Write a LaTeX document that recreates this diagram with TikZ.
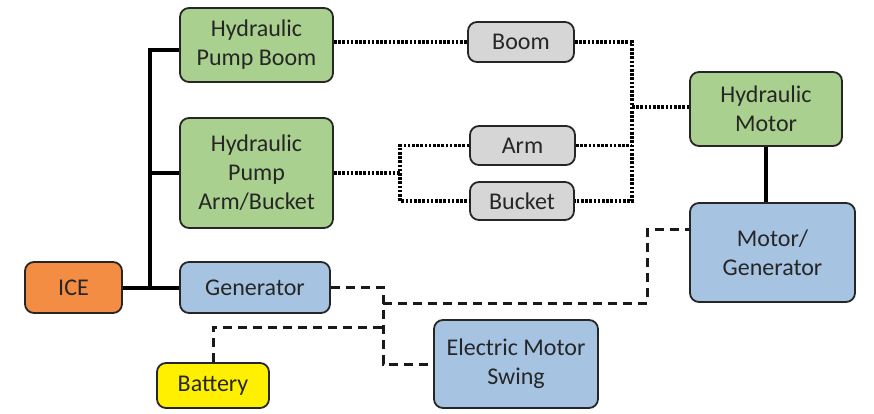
\documentclass[tikz,border=0pt]{standalone}
\usepackage{fontspec}
\setmainfont{Carlito}
\definecolor{gfill}{RGB}{169,208,142}
\definecolor{bfill}{RGB}{166,196,226}
\definecolor{grayfill}{RGB}{214,214,214}
\definecolor{ofill}{RGB}{244,141,68}
\definecolor{yfill}{RGB}{255,240,0}
\begin{document}
\begin{tikzpicture}[x=1pt,y=-1pt,
  box/.style={draw=black!85, line width=1.8pt, rounded corners=9pt, align=center, inner sep=0pt,
    font=\fontsize{24}{29}\selectfont, text=black!85},
  solidc/.style={line width=4pt, black},
  dotc/.style={line width=3.5pt, dash pattern=on 2.6pt off 1.6pt, black},
  dashc/.style={line width=3pt, dash pattern=on 9pt off 6pt, black!90}]
\useasboundingbox (0,0) rectangle (874,413);
\fill[white] (0,0) rectangle (874,413);
% nodes
\node[box, fill=gfill, minimum width=153, minimum height=74] (hpb) at (256.5,45) {Hydraulic\\Pump Boom};
\node[box, fill=gfill, minimum width=153, minimum height=110] (hpa) at (256.5,173) {Hydraulic\\Pump\\Arm/Bucket};
\node[box, fill=ofill, minimum width=97, minimum height=51] (ice) at (73.5,287.5) {ICE};
\node[box, fill=bfill, minimum width=150, minimum height=51] (gen) at (255,287.5) {Generator};
\node[box, fill=yfill, minimum width=112, minimum height=45] (bat) at (213,385.5) {Battery};
\node[box, fill=grayfill, minimum width=106, minimum height=40] (boom) at (521,42) {Boom};
\node[box, fill=grayfill, minimum width=105, minimum height=39] (arm) at (522.5,145.5) {Arm};
\node[box, fill=grayfill, minimum width=104, minimum height=38] (bucket) at (522,201) {Bucket};
\node[box, fill=gfill, minimum width=152, minimum height=74] (hm) at (766,109) {Hydraulic\\Motor};
\node[box, fill=bfill, minimum width=165, minimum height=99] (mg) at (772.5,252.5) {Motor/\\Generator};
\node[box, fill=bfill, minimum width=164, minimum height=88] (ems) at (516,364) {Electric Motor\\Swing};
% solid bus
\coordinate (bt) at (150,50);
\coordinate (bm) at (150,173);
\coordinate (bb) at (150,287.5);
\draw[solidc] (hpb.west |- bt) -- (bt) -- (bb);
\draw[solidc] (bm) -- (hpa.west);
\draw[solidc] (ice.east) -- (gen.west);
\draw[solidc] (hm.south) -- (hm.south |- mg.north);
% dotted hydraulic lines
\coordinate (rj) at (632,107);
\coordinate (lj) at (400,173);
\draw[dotc] (hpb.east |- boom.west) -- (boom.west);
\draw[dotc] (boom.east) -| (rj |- bucket.east) -- (bucket.east);
\draw[dotc] (arm.east) -- (rj |- arm.east);
\draw[dotc] (rj) -- (hm.west |- rj);
\draw[dotc] (hpa.east) -- (lj);
\draw[dotc] (arm.west) -| (lj) |- (bucket.west);
% dashed electric lines
\coordinate (dx) at (383,303);
\coordinate (dm) at (647,303);
\coordinate (bj) at (383,327);
\draw[dashc] (gen.east) -| (dx |- ems.west) -- (ems.west);
\draw[dashc] (dx) -- (dm) |- ([yshift=23pt]mg.west);
\draw[dashc] (bat.north) |- (bj);
\end{tikzpicture}
\end{document}
